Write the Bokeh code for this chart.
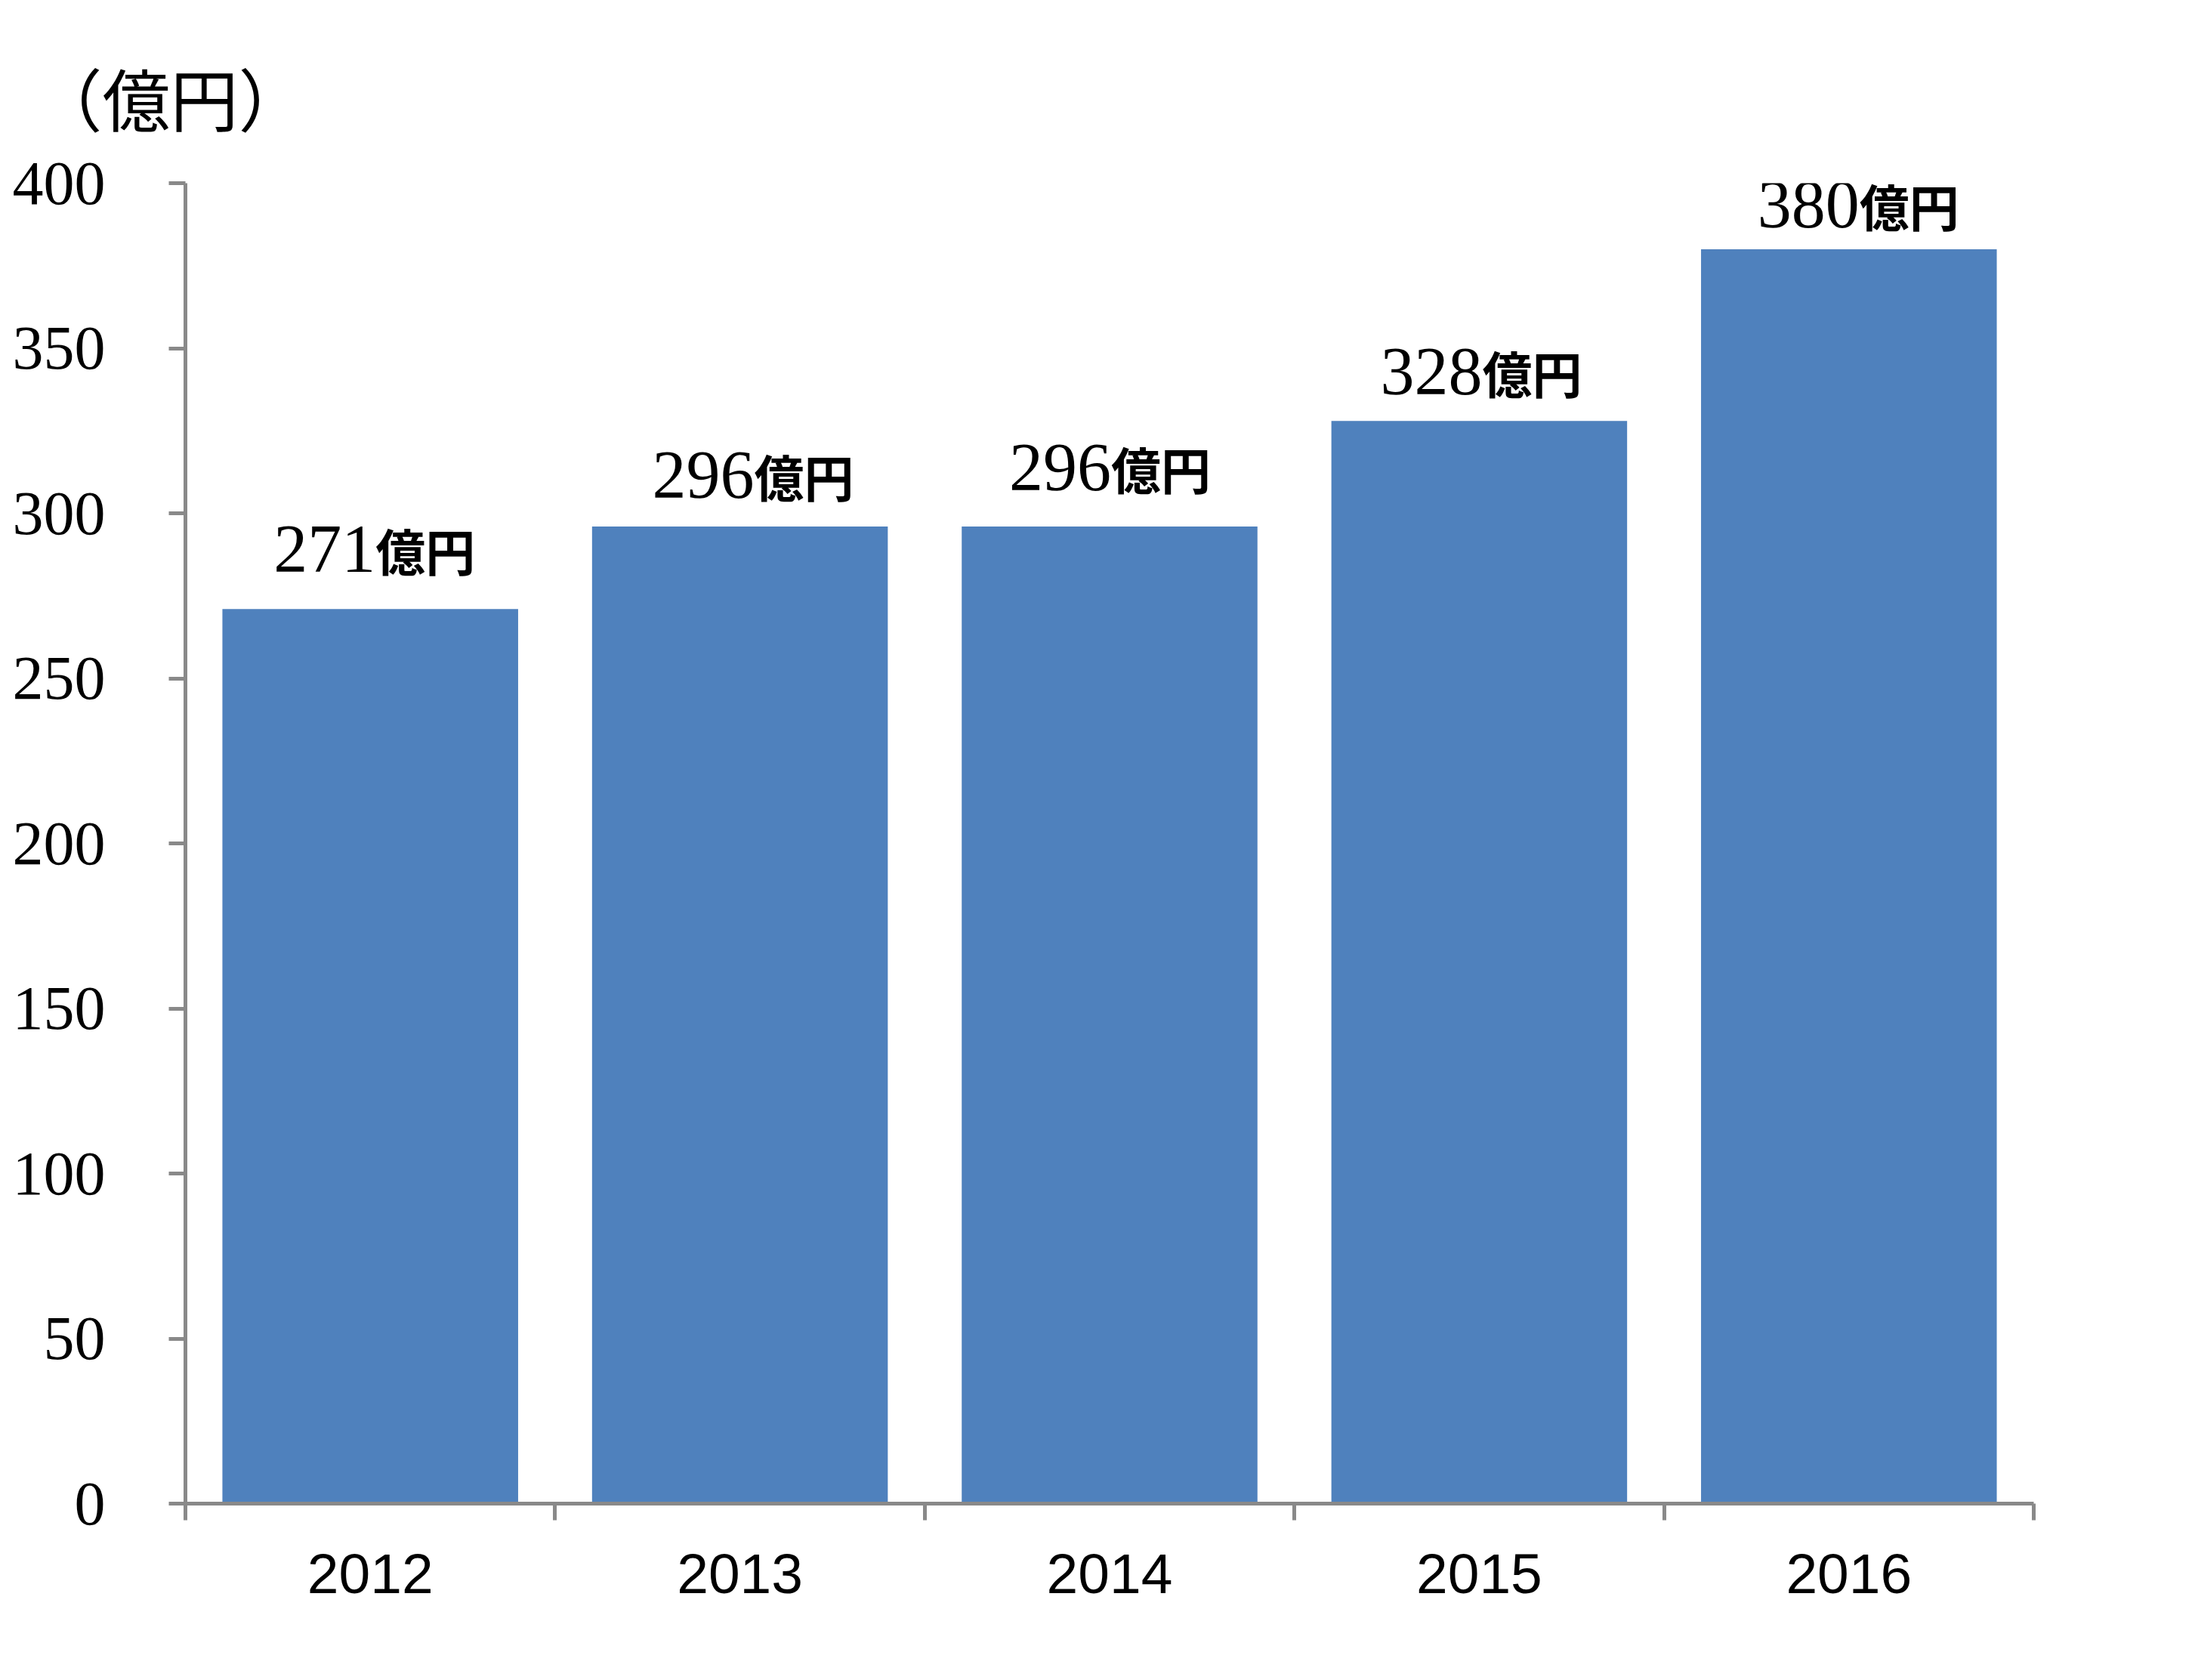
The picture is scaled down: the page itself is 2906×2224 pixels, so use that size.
from bokeh.plotting import figure
from bokeh.models import ColumnDataSource, Range1d, FixedTicker, Title
from bokeh.core.properties import value
from bokeh.embed import file_html
from bokeh.resources import INLINE

# ---- data ----
years = ["2012", "2013", "2014", "2015", "2016"]
sales = [271, 296, 296, 328, 380]
unit_title = "（億円）"
unit_suffix = "億円"
y_ticks = [0, 50, 100, 150, 200, 250, 300, 350, 400]

# label nudges (screen px) as placed in the original
label_dx = [7, 19, 2, 4, 14]
label_dy = [-79, -68, -78, -65, -59]

xs = list(range(1, len(years) + 1))
src = ColumnDataSource(dict(
    x=xs, top=sales, num=[str(v) for v in sales],
    suf=[unit_suffix] * len(sales), dx=label_dx, dy=label_dy,
))

W, H = 2880, 2200
FL, FR, FT, FB = 245, 2692, 242, 1990

p = figure(width=W, height=H, output_backend="svg", toolbar_location=None,
           x_range=Range1d(0.5, len(years) + 0.5), y_range=Range1d(0, 400),
           min_border_left=FL, min_border_right=W - FR,
           min_border_top=FT, min_border_bottom=H - FB)
p.outline_line_color = None
p.background_fill_color = "white"
p.border_fill_color = "white"
p.xgrid.visible = False
p.ygrid.visible = False

p.vbar(x="x", top="top", width=0.8, bottom=0, source=src,
       fill_color="#4F81BD", line_color=None)

p.text(x="x", y="top", text="num", x_offset="dx", y_offset="dy", source=src,
       text_align="right", text_baseline="alphabetic",
       text_font=value("Liberation Serif"), text_font_size=value("90px"),
       text_color="black")
p.text(x="x", y="top", text="suf", x_offset="dx", y_offset="dy", source=src,
       text_align="left", text_baseline="alphabetic",
       text_font=value("Noto Sans CJK JP"), text_font_size=value("66px"),
       text_font_style="bold", text_color="black")

axis_col = "#898989"

# x axis: labels at centres, ticks at boundaries (minor ticks)
xa = p.xaxis[0]
xa.ticker = FixedTicker(ticks=xs, minor_ticks=[i + 0.5 for i in range(len(years) + 1)])
xa.major_label_overrides = {x: y for x, y in zip(xs, years)}
xa.major_tick_line_color = None
xa.major_tick_in = 0
xa.major_tick_out = 22
xa.minor_tick_in = 0
xa.minor_tick_out = 22
xa.minor_tick_line_color = axis_col
xa.minor_tick_line_width = 5
xa.axis_line_color = axis_col
xa.axis_line_width = 5
xa.major_label_text_font = "Liberation Sans"
xa.major_label_text_font_size = "75px"
xa.major_label_text_color = "black"
xa.major_label_standoff = 45

ya = p.yaxis[0]
ya.ticker = FixedTicker(ticks=y_ticks)
ya.major_tick_in = 0
ya.major_tick_out = 22
ya.major_tick_line_color = axis_col
ya.major_tick_line_width = 5
ya.minor_tick_line_color = None
ya.axis_line_color = axis_col
ya.axis_line_width = 5
ya.major_label_text_font = "Liberation Serif"
ya.major_label_text_font_size = "82px"
ya.major_label_text_color = "black"
ya.major_label_standoff = 84

t = Title(text=unit_title, align="left", offset=-200, standoff=100,
          text_font="Noto Sans CJK JP", text_font_size="90px",
          text_font_style="normal", text_color="black")
p.add_layout(t, "above")

open("out.html", "w").write(file_html(p, INLINE))
